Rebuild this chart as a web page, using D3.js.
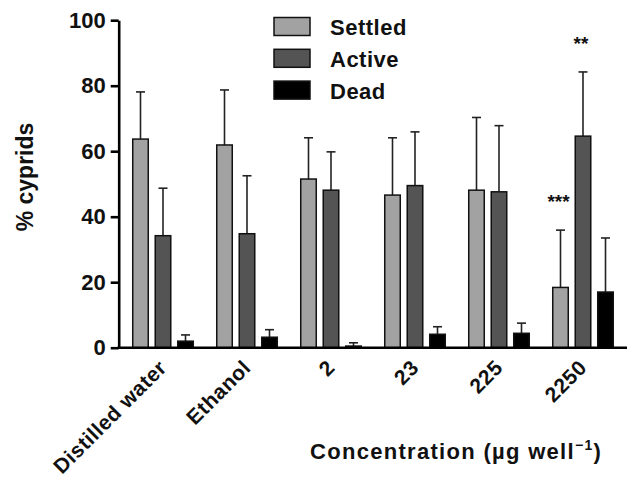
<!DOCTYPE html>
<html>
<head>
<meta charset="utf-8">
<script src="https://cdn.jsdelivr.net/npm/d3@7/dist/d3.min.js"></script>
<style>
  body { margin: 0; background: #fff; }
  text { font-family: "Liberation Sans", Arial, sans-serif; font-weight: bold; fill: #111; }
</style>
</head>
<body>
<div id="chart"></div>
<script>
// data
const categories = ["Distilled water", "Ethanol", "2", "23", "225", "2250"];
const series = ["Settled", "Active", "Dead"];
const settled = [63.7, 61.9, 51.5, 46.6, 48.1, 18.4];
const settledErr = [14.4, 16.8, 12.6, 17.5, 22.2, 17.5];
const active = [34.2, 34.8, 48.1, 49.5, 47.6, 64.6];
const activeErr = [14.5, 17.7, 11.7, 16.4, 20.2, 19.6];
const dead = [2.0, 3.2, 0.5, 4.1, 4.4, 17.0];
const deadErr = [1.9, 2.3, 1.0, 2.3, 3.1, 16.5];
const yTicks = [0, 20, 40, 60, 80, 100];
const stars = [
  { cat: "2250", s: "Settled", label: "***" },
  { cat: "2250", s: "Active", label: "**" }
];

const colors = { Settled: "#a2a2a2", Active: "#545454", Dead: "#000000" };
const values = { Settled: settled, Active: active, Dead: dead };
const errs = { Settled: settledErr, Active: activeErr, Dead: deadErr };

const width = 627, height = 477;

const svg = d3.select("#chart")
  .append("svg")
  .attr("width", width)
  .attr("height", height);

const x0 = d3.scaleBand()
  .domain(categories)
  .range([121, 625])
  .paddingInner(0);

const x1 = d3.scaleBand()
  .domain(series)
  .range([-33.75, 33.75])
  .paddingInner(0.31)
  .paddingOuter(0.155);

const y = d3.scaleLinear()
  .domain([0, 100])
  .range([347.7, 20.2]);

// flatten for the bars
const rows = [];
categories.forEach((c, i) => {
  series.forEach(s => {
    rows.push({ cat: c, s: s, v: values[s][i], e: errs[s][i] });
  });
});

const cx = d => x0(d.cat) + x0.bandwidth() / 2 + x1(d.s);

// error bars (upper only)
const eb = svg.append("g").attr("stroke", "#222").attr("stroke-width", 1.6);
eb.selectAll("line.v")
  .data(rows)
  .join("line")
  .attr("class", "v")
  .attr("x1", d => cx(d) + x1.bandwidth() / 2)
  .attr("x2", d => cx(d) + x1.bandwidth() / 2)
  .attr("y1", d => y(d.v))
  .attr("y2", d => y(d.v + d.e));
eb.selectAll("line.c")
  .data(rows)
  .join("line")
  .attr("class", "c")
  .attr("x1", d => cx(d) + x1.bandwidth() / 2 - 4.5)
  .attr("x2", d => cx(d) + x1.bandwidth() / 2 + 4.5)
  .attr("y1", d => y(d.v + d.e))
  .attr("y2", d => y(d.v + d.e));

// bars
svg.append("g")
  .selectAll("rect")
  .data(rows)
  .join("rect")
  .attr("x", d => cx(d))
  .attr("width", x1.bandwidth())
  .attr("y", d => y(d.v))
  .attr("height", d => y(0) - y(d.v))
  .attr("fill", d => colors[d.s])
  .attr("stroke", "#111")
  .attr("stroke-width", 1.5);

// y axis
const yAxis = svg.append("g")
  .attr("transform", "translate(118.7,0)")
  .call(d3.axisLeft(y).tickValues(yTicks).tickSize(8).tickPadding(5).tickSizeOuter(0));
yAxis.select(".domain").attr("stroke", "#000").attr("stroke-width", 2.6);
yAxis.selectAll(".tick line").attr("stroke", "#000").attr("stroke-width", 2.6);
yAxis.selectAll(".tick text")
  .attr("fill", "#111")
  .style("font-size", "22px")
  .style("font-family", "'Liberation Sans', Arial, sans-serif")
  .style("font-weight", "bold");

// x axis line
svg.append("line")
  .attr("x1", 117.4).attr("x2", 627)
  .attr("y1", y(0)).attr("y2", y(0))
  .attr("stroke", "#000").attr("stroke-width", 2.6);

// x tick labels, rotated
svg.append("g")
  .selectAll("text")
  .data(categories)
  .join("text")
  .attr("transform", d => `translate(${x0(d) + x0.bandwidth() / 2 + 5},369) rotate(-45)`)
  .attr("text-anchor", "end")
  .style("font-size", "21px")
  .style("letter-spacing", "0.5px")
  .text(d => d);

// significance stars
svg.append("g")
  .selectAll("text")
  .data(stars)
  .join("text")
  .attr("x", d => x0(d.cat) + x0.bandwidth() / 2 + x1(d.s) + x1.bandwidth() / 2 - 2)
  .attr("y", d => {
    const i = categories.indexOf(d.cat);
    return y(values[d.s][i] + errs[d.s][i]) - 22;
  })
  .attr("text-anchor", "middle")
  .style("font-size", "19px")
  .text(d => d.label);

// legend
const legend = svg.append("g")
  .selectAll("g")
  .data(series)
  .join("g")
  .attr("transform", (d, i) => `translate(274,${17.5 + i * 31.8})`);
legend.append("rect")
  .attr("width", 36)
  .attr("height", 18)
  .attr("fill", d => colors[d])
  .attr("stroke", "#111")
  .attr("stroke-width", 1.5);
legend.append("text")
  .attr("x", 56)
  .attr("y", 17.5)
  .style("font-size", "22px")
  .style("letter-spacing", "0.5px")
  .text(d => d);

// axis titles
svg.append("text")
  .attr("transform", "translate(33,177) rotate(-90)")
  .attr("text-anchor", "middle")
  .style("font-size", "23px")
  .text("% cyprids");

const xt = svg.append("text")
  .attr("x", 310)
  .attr("y", 459)
  .style("font-size", "22px")
  .style("letter-spacing", "1.3px");
xt.append("tspan").text("Concentration (µg well");
xt.append("tspan").attr("dy", -9).style("font-size", "14px").text("−1");
xt.append("tspan").attr("dy", 9).text(")");
</script>
</body>
</html>
